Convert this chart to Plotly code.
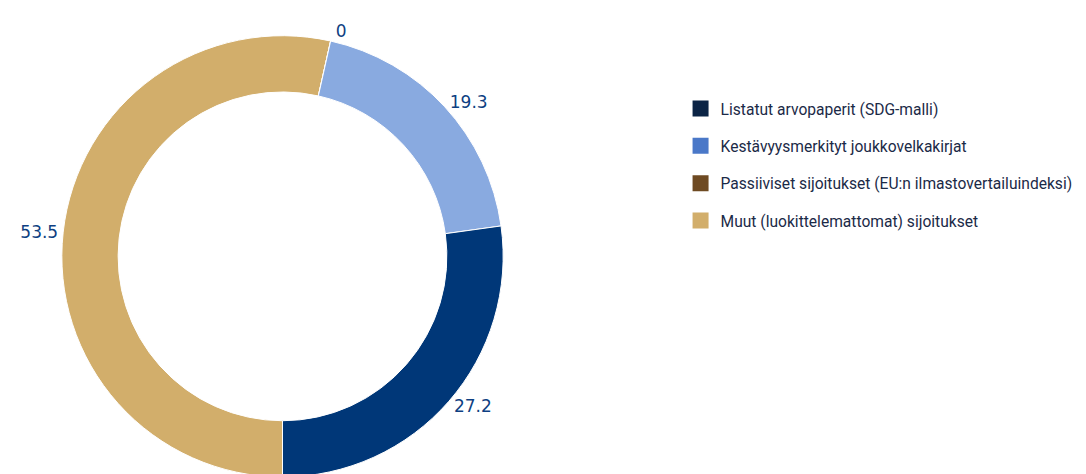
import plotly.graph_objects as go

labels = [
    "Listatut arvopaperit (SDG-malli)",
    "Kestävyysmerkityt joukkovelkakirjat",
    "Passiiviset sijoitukset (EU:n ilmastovertailuindeksi)",
    "Muut (luokittelemattomat) sijoitukset",
]
values = [27.2, 19.3, 0, 53.5]
slice_colors = ["#003778", "#89aae0", "#6e4a22", "#d2ae6b"]
legend_colors = ["#0b2445", "#4a78c8", "#6e4a22", "#d2ae6b"]

fig = go.Figure()
# slices drawn clockwise from 6 o'clock in reverse order (= counterclockwise in original order)
fig.add_trace(go.Pie(
    labels=labels[::-1],
    values=values[::-1],
    hole=0.745,
    sort=False,
    direction="clockwise",
    rotation=180,
    marker=dict(colors=slice_colors[::-1], line=dict(color="white", width=1)),
    textinfo="value",
    texttemplate="%{value}",
    textposition="outside",
    outsidetextfont=dict(color="#0e3f82", size=17, family="DejaVu Sans"),
    showlegend=False,
    domain=dict(x=[51.5 / 1086, 497.5 / 1086], y=[0, 1 - 28 / 474]),
))

for i, (lab, col) in enumerate(zip(labels, legend_colors)):
    fig.add_trace(go.Scatter(
        x=[None], y=[None], mode="markers", name=lab,
        legendgroup=f"g{i}",
        marker=dict(symbol="square", size=16, color=col),
    ))

fig.update_layout(
    width=1086, height=474,
    margin=dict(l=0, r=0, t=0, b=0),
    paper_bgcolor="white", plot_bgcolor="white",
    xaxis=dict(visible=False), yaxis=dict(visible=False),
    legend=dict(
        x=0.6193, y=0.821, xanchor="left", yanchor="top",
        font=dict(size=15.6, color="#1b2a47", family="Roboto"),
        tracegroupgap=14,
    ),
)

fig.write_html("out.html")
